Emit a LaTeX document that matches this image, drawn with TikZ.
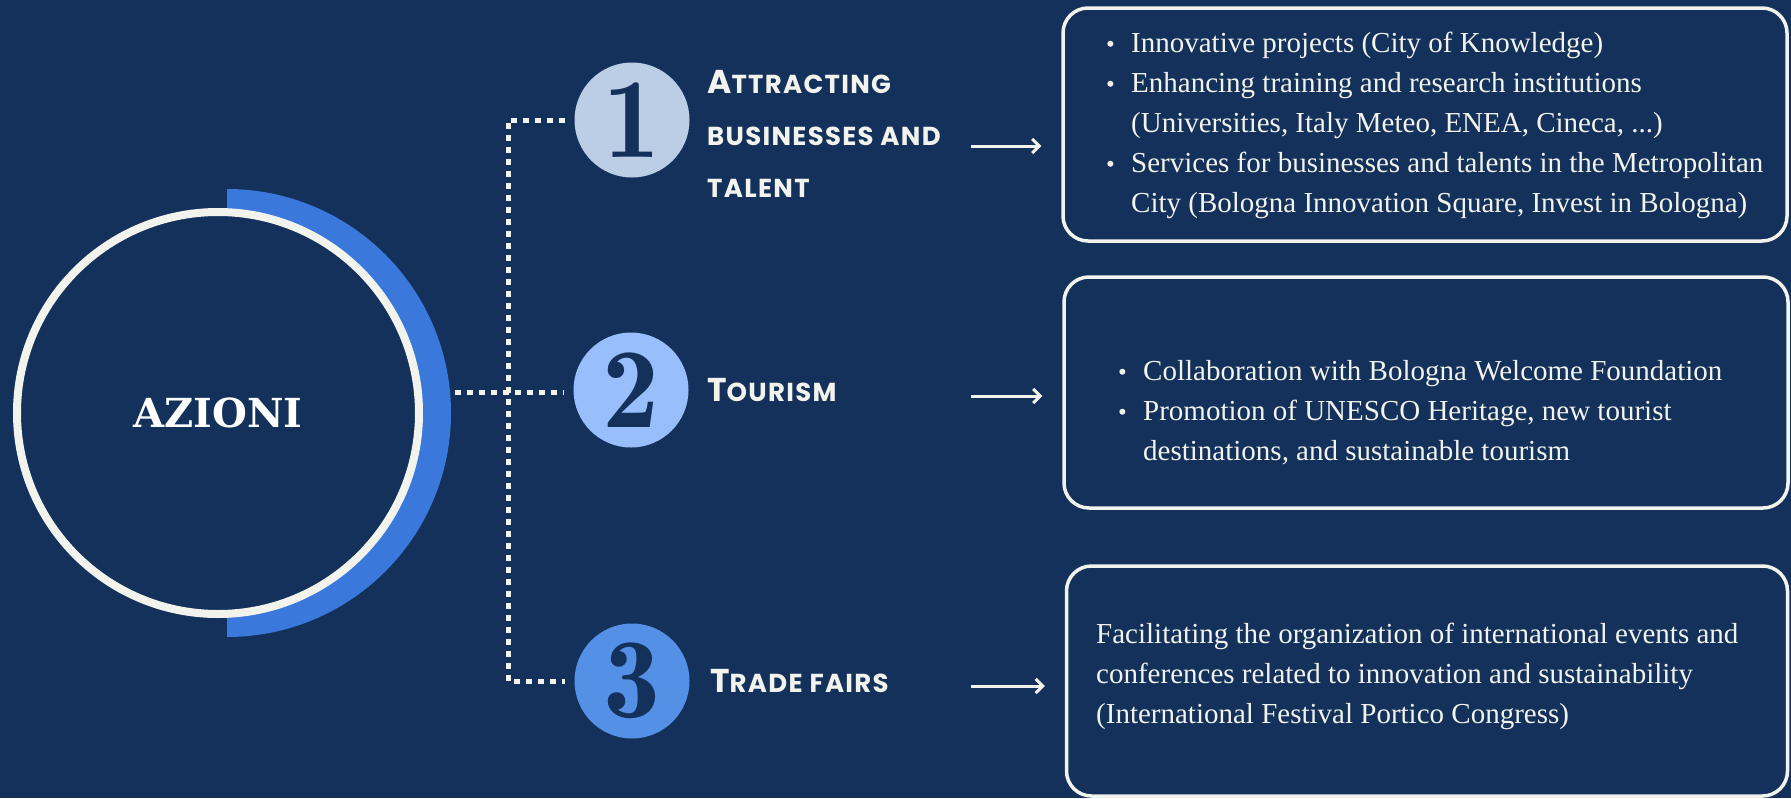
\documentclass[tikz,border=0pt]{standalone}
\usepackage{fontspec}
\setmainfont{Liberation Serif}
\newfontfamily\tagfont[LetterSpace=5]{Poppins}
\newfontfamily\headfont{DejaVu Serif}
\usetikzlibrary{arrows.meta}

\definecolor{navy}{HTML}{13315A}
\definecolor{cream}{HTML}{F2F3EC}
\definecolor{arcblue}{HTML}{3A78DB}
\definecolor{blueA}{HTML}{BCCDE6}
\definecolor{blueB}{HTML}{98BEFB}
\definecolor{blueC}{HTML}{5590E7}

\newcommand\capletter[1]{{\fontsize{33}{33}\selectfont #1}}
\newcommand\itm{\makebox[25pt][l]{\fontsize{25}{25}\selectfont\textbullet}}
\newcommand\hang{\hspace*{25pt}}

\tikzset{
	numcirc/.style={circle, minimum size=115pt, inner sep=0pt, text=navy, font=\fontfamily{lmr}\bfseries\fontsize{114}{114}\selectfont},
	tag/.style={anchor=west, inner sep=0pt, align=left, text=cream, font=\tagfont\bfseries\fontsize{26}{52}\selectfont},
	panel/.style={draw=cream, line width=3.5pt, rounded corners=25pt},
	boxtext/.style={anchor=west, inner sep=0pt, align=left, text=cream, font=\fontsize{29}{40}\selectfont},
	dotline/.style={cream, line width=5pt, dash pattern=on 6pt off 6pt},
	link/.style={cream, line width=3pt, -{Straight Barb[length=7pt,width=14pt]}, shorten >=20pt}
}

\begin{document}
\begin{tikzpicture}[x=1pt, y=-1pt]
		\fill[navy] (0,0) rectangle (1791,798);
		\useasboundingbox (0,0) rectangle (1791,798);

		\fill[arcblue] (227,189) arc[start angle=-90, end angle=90, radius=224] -- cycle;
		\node[circle, draw=cream, fill=navy, line width=8pt, minimum size=402pt, inner sep=0pt, text=white, font=\headfont\bfseries\fontsize{40}{40}\selectfont] (azioni) at (218,413) {AZIONI};

		\node[numcirc, fill=blueA] (num1) at (632,120) {1};
		\node[numcirc, fill=blueB] (num2) at (631,390) {2};
		\node[numcirc, fill=blueC] (num3) at (632,681) {3};

		\coordinate (hub) at (455,392);
		\coordinate (c1) at (508,120);
		\coordinate (c3) at (508,681);
		\draw[dotline] ([xshift=-9pt]num1.west) -- (c1) -- (c3) -- ([xshift=-9pt]num3.west);
		\draw[dotline] (hub) -- ([xshift=-9pt]num2.west |- hub);

		\node[tag] (lab1) at (707,134) {\capletter{A}TTRACTING\\BUSINESSES AND\\TALENT};
		\node[tag] (lab2) at (707,390) {\capletter{T}OURISM};
		\node[tag] (lab3) at (710,681) {\capletter{T}RADE FAIRS};

		\node[panel, minimum width=724pt, minimum height=233pt] (box1) at (1425,124.5) {};
		\node[panel, minimum width=724pt, minimum height=231pt] (box2) at (1426,392.5) {};
		\node[panel, minimum width=721pt, minimum height=230pt] (box3) at (1427,681) {};

		\coordinate (a1) at (971,146);
		\coordinate (a2) at (971,396);
		\coordinate (a3) at (971,686);
		\draw[link] (a1) -- (a1 -| box1.west);
		\draw[link] (a2) -- (a2 -| box2.west);
		\draw[link] (a3) -- (a3 -| box3.west);

		\node[boxtext] (txt1) at (1106,125) {\itm Innovative projects (City of Knowledge)\\\itm Enhancing training and research institutions\\\hang(Universities, Italy Meteo, ENEA, Cineca, ...)\\\itm Services for businesses and talents in the Metropolitan\\\hang City (Bologna Innovation Square, Invest in Bologna)};
		\node[boxtext] (txt2) at (1118,413) {\itm Collaboration with Bologna Welcome Foundation\\\itm Promotion of UNESCO Heritage, new tourist\\\hang destinations, and sustainable tourism};
		\node[boxtext] (txt3) at (1096,676) {Facilitating the organization of international events and\\conferences related to innovation and sustainability\\(International Festival Portico Congress)};
	\end{tikzpicture}
\end{document}
